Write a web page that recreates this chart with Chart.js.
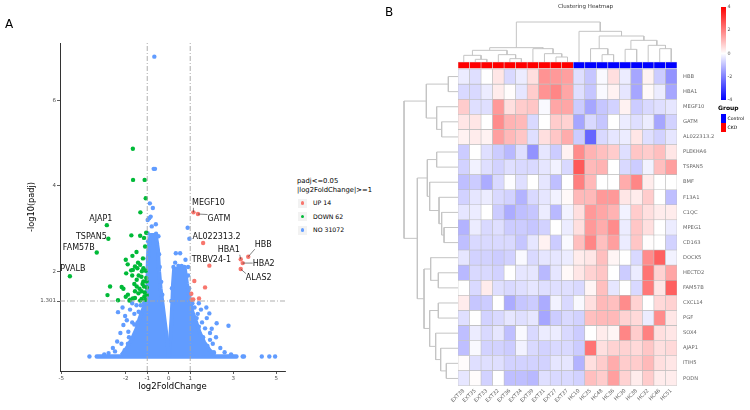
<!DOCTYPE html>
<html>
<head>
<meta charset="utf-8">
<script src="https://cdn.jsdelivr.net/npm/chart.js@4.4.1/dist/chart.umd.min.js"></script>
<style>
  body { margin: 0; background: #fff; width: 750px; height: 410px; position: relative; overflow: hidden; font-family: "DejaVu Sans", sans-serif; }
  canvas, .abs { position: absolute; }
  .abs { white-space: nowrap; }
</style>
</head>
<body>
<canvas id="volcano" width="290" height="400" style="left:0;top:0"></canvas>
<canvas id="rowDendro" width="58" height="317" style="left:400px;top:69px"></canvas>
<canvas id="colDendro" width="219" height="47" style="left:458px;top:15px"></canvas>
<canvas id="heat" width="309" height="355" style="left:428px;top:55px"></canvas>

<div class="abs" style="left:5px;top:17px;font-size:12px;">A</div>
<div class="abs" style="left:385px;top:5px;font-size:12px;">B</div>
<div class="abs" style="left:558px;top:3px;font-size:5.5px;color:#333;">Clustering Heatmap</div>
<div class="abs" style="left:297px;top:177px;font-size:6.8px;line-height:9px;">padj&lt;=0.05<br>|log2FoldChange|&gt;=1</div>
<div id="volcanoLegend"></div>
<div id="heatLegend"></div>

<script>
// ---------- volcano plot data ----------
const xTicks = [-5, -2, -1, 0, 1, 3, 5];
const yTicks = [1.301, 2, 4, 6];
const fcCut = 1;
const padjLine = 1.301;
const upCount = 14, downCount = 62, noCount = 31072;

// UP (red)
const upX = [1.15, 1.36, 1.60, 3.70, 3.35, 3.44, 3.35, 1.89, 1.19, 1.69, 1.05, 1.41, 1.07, 1.14];
const upY = [3.38, 3.34, 2.66, 2.34, 2.28, 2.19, 2.05, 2.13, 1.77, 1.62, 1.47, 1.36, 1.33, 1.34];
const upGene = ["MEGF10", "GATM", "AL022313.2", "HBB", "HBA1", "HBA2", "ALAS2", "TRBV24-1"];

// DOWN (green)
const downX = [-4.60, -3.35, -2.81, -2.88, -1.67, -1.66, -1.12, -1.07, -1.32, -1.74,
  -1.33, -1.15, -1.10, -1.69, -2.00, -1.91, -1.57, -1.67, -1.46, -1.33,
  -1.43, -1.18, -1.07, -1.75, -1.98, -1.27, -1.05, -1.49, -1.18, -2.73,
  -2.19, -2.11, -1.49, -1.36, -1.15, -1.02, -1.57, -1.26, -1.41, -2.85,
  -2.36, -1.80, -1.67, -1.57, -1.26, -1.13, -1.02, -1.83, -1.33, -1.09,
  -1.03, -1.20, -1.50, -1.05, -1.40, -1.90, -1.60, -1.25, -1.12, -2.00,
  -1.70, -1.22];
const downY = [1.88, 2.44, 2.76, 3.08, 4.87, 4.14, 4.14, 3.71, 3.38, 2.84,
  2.83, 2.78, 2.58, 2.36, 2.27, 2.16, 2.11, 2.03, 2.07, 2.15,
  2.20, 2.07, 2.01, 2.02, 1.95, 1.87, 1.84, 1.80, 1.76, 1.64,
  1.63, 1.59, 1.64, 1.59, 1.64, 1.62, 1.53, 1.53, 1.48, 1.44,
  1.32, 1.33, 1.36, 1.37, 1.35, 1.41, 1.44, 1.31, 1.31, 1.33,
  1.76, 2.30, 2.45, 2.90, 1.90, 1.45, 1.70, 2.00, 1.50, 1.40,
  1.90, 1.70];
const downGene = ["PVALB", "FAM57B", "TSPAN5", "AJAP1"];

// NO (blue) - scattered points outside the dense cloud
const noX = [-0.67, -0.70, -0.64, -0.88, -0.74, -0.91, -0.84, -0.98, -0.79, -0.98, -0.59, -0.48, -0.96, -0.55, -0.45, -0.42, -0.99, -0.97, -0.99, -0.35, -0.30, -0.60,
  0.88, 0.96, 0.33, 0.53, 0.78, 0.73, 0.60, 0.45, 0.22, 0.30, 0.90, 0.95, 0.98, 0.15, 0.12, 0.90,
  -3.69, -2.36, -2.11, -2.03, -1.88, -1.77, -2.25, -2.40, -2.60, -2.50, -2.20, -1.95, -1.80, -1.60, -1.50, -1.70, -1.40, -1.30, -1.15, -1.85, -2.05, -2.80, -3.00, -1.60, -1.30, -2.15, -1.70, -1.45, -1.90,
  1.89, 2.23, 2.78, 1.77, 1.69, 1.92, 1.92, 1.46, 1.55, 1.35, 1.20, 1.10, 1.50, 1.60, 2.05, 2.20, 2.40, 2.10, 1.80, 2.60, 2.90, 1.40, 1.30, 1.00, 2.00, 1.75, 1.40,
  3.44, 3.50, 4.33, 4.68, 4.95];
const noY = [7.03, 4.40, 4.40, 3.59, 3.48, 3.24, 3.28, 3.20, 3.05, 2.89, 2.88, 2.82, 2.70, 2.65, 2.40, 2.10, 2.30, 1.90, 1.50, 1.75, 1.45, 3.10,
  3.02, 2.76, 2.42, 2.42, 2.27, 2.10, 2.12, 2.12, 2.10, 2.20, 1.90, 1.60, 1.45, 1.60, 1.30, 2.10,
  0.00, 1.04, 0.74, 0.95, 0.58, 0.35, 0.55, 0.35, 0.20, 0.12, 0.30, 0.85, 1.10, 1.00, 1.20, 0.80, 1.05, 1.20, 1.25, 0.45, 0.15, 0.08, 0.05, 0.75, 1.00, 1.15, 1.25, 0.80, 0.30,
  1.01, 0.78, 0.72, 0.90, 0.66, 0.55, 0.39, 0.51, 0.80, 1.00, 1.15, 1.25, 1.10, 0.45, 0.30, 0.45, 0.20, 0.10, 0.25, 0.10, 0.05, 0.70, 0.90, 1.28, 0.65, 1.15, 1.25,
  0, 0, 0, 0, 0];

// outline of the dense NO cloud (two lobes) and the padj = 1 row
const cloudLeftX = [-2.2, -1.95, -1.7, -1.5, -1.35, -1.2, -1.05, -1.0, -0.98, -0.95, -0.85, -0.6, -0.5, -0.45, -0.38, -0.28, -0.18, -0.08, -0.02, -0.02];
const cloudLeftY = [0.03, 0.2, 0.42, 0.65, 0.9, 1.1, 1.28, 1.6, 2.1, 2.5, 2.85, 2.85, 2.5, 2.0, 1.6, 1.2, 0.8, 0.4, 0.15, 0.02];
const cloudRightX = [0.02, 0.03, 0.08, 0.13, 0.17, 0.2, 0.25, 0.75, 0.85, 0.97, 1.1, 1.28, 1.45, 1.65, 1.9, 2.15];
const cloudRightY = [0.02, 0.2, 0.5, 0.9, 1.3, 1.7, 2.05, 2.05, 1.7, 1.35, 1.05, 0.8, 0.55, 0.33, 0.15, 0.03];
const zeroRowX = [-3.35, 3.15];
const zeroRowY = [0, 0];

// ---------- heatmap data ----------
const sampleNames = ["EXT38", "EXT35", "EXT33", "EXT32", "EXT36", "EXT34", "EXT39", "EXT31", "EXT27", "EXT37",
  "HC10", "HC35", "HC48", "HC36", "HC30", "HC38", "HC32", "HC46", "HC51"];
const sampleGroups = ["CKD", "CKD", "CKD", "CKD", "CKD", "CKD", "CKD", "CKD", "CKD", "CKD",
  "Control", "Control", "Control", "Control", "Control", "Control", "Control", "Control", "Control"];
const rowGenes = ["HBB", "HBA1", "MEGF10", "GATM", "AL022313.2", "PLEKHA6", "TSPAN5", "BMF", "F13A1", "C1QC",
  "MPEG1", "CD163", "DOCK5", "HECTD2", "FAM57B", "CXCL14", "PGF", "SOX4", "AJAP1", "ITIH5", "PODN"];
const heatValues = [
  [-0.3, -0.5, 0, 0.4, -0.6, -0.3, 0.5, 1.7, 1.6, 1.5, -0.5, -0.9, -0.1, 0.5, -0.3, -1.4, 0.2, -0.8, -1.7],
  [-0.6, -0.6, -0.3, 0.3, 0.05, -0.4, 0.8, 1.7, 1.9, 1.4, -0.5, -0.9, -0.1, 0.2, -0.4, -1.4, 0.1, -0.3, -1.4],
  [0.8, -0.5, -0.5, 1.6, 0.5, 0.8, 0.9, -0.1, 1.4, 1.4, -0.8, -1.4, -0.9, -0.7, 0.2, -0.8, -0.6, -0.5, -0.4],
  [0.4, 0.4, 0, 1.8, 1.2, 1.1, -0.6, 0, 0.8, 0.7, -1.4, -0.6, -0.9, 0, -0.3, -0.5, -0.3, -1.4, -0.7],
  [0.2, 0.3, 0.2, 1.5, 1.1, 0.9, -0.5, 0.5, 0.9, 1.3, -0.8, -2.4, -0.6, -0.4, -0.3, 0.4, -0.5, -0.7, -0.4],
  [-0.8, 0, -0.5, -0.8, -1.1, -0.5, -1.7, -0.4, -0.8, 0.2, 1.8, 1.2, 1.0, 0.8, -0.5, 0.9, 0.8, 1.0, 0.4],
  [-0.7, -0.2, -0.5, -0.7, -0.5, -0.6, -0.6, -0.4, -0.2, -0.6, 2.6, 1.1, 1.2, 0, -0.6, -0.8, -0.2, 1.0, 1.5],
  [-1.0, -0.8, -1.3, -0.6, -0.05, -0.5, 0, -0.4, -1.0, 0, 2.0, 1.1, 0, 0, 1.3, 1.9, 0.3, 0, 0],
  [-0.7, -0.4, -0.3, -0.6, -0.7, -1.2, -0.6, -0.4, -0.2, 0.1, 1.1, 1.1, 1.6, 1.6, 0.4, 0.3, 0.8, 0, -1.0],
  [-0.4, -0.3, 0, -0.8, -1.3, -1.0, -0.9, -0.3, -1.1, -0.2, 0.5, 1.6, 1.4, 1.2, -0.2, 0.8, 0.5, 0.3, 0.3],
  [-1.2, -0.3, -0.6, -0.5, -0.8, -0.8, -0.9, -0.7, 0, -0.3, 0.5, 1.6, 1.3, 1.8, -0.3, 0.9, 0.5, 0, -0.3],
  [-1.0, -0.6, -0.6, -0.6, -0.6, -0.9, -0.4, 0.2, -0.8, -0.1, 1.0, 1.9, 1.0, 1.5, -0.3, 0.9, 0.05, 0, -0.7],
  [-0.4, -0.7, -0.7, -0.8, -0.7, -0.1, -0.6, -0.4, -0.4, -0.3, 0.3, 0.4, 1.0, 0.15, 0, -0.6, 1.8, 2.5, -0.2],
  [-1.1, -0.6, -0.6, -0.7, 0, -0.4, -0.4, -1.1, -0.4, 0.1, 0.4, 0.7, 0.9, 0, -0.8, -0.3, 2.2, 0.7, 1.4],
  [0, -0.6, 0.3, -0.5, -0.6, -0.5, -0.4, -0.5, -0.5, -0.5, -0.6, 0.15, 1.0, -0.4, 0, -0.6, 2.1, 0.4, 2.5],
  [0.3, -0.9, -0.8, 0, -1.3, -0.9, -0.8, -1.3, -0.2, -0.6, -0.1, 0.5, 1.1, 1.0, 1.8, 0.7, 0, 0.6, 0.7],
  [-0.5, 0, -0.7, -0.6, -0.4, -0.5, -0.4, -1.4, -0.8, -0.6, -0.7, 1.0, 1.1, 1.1, 0.7, 0.6, -0.3, 1.8, 0.4],
  [-1.0, -0.3, -0.6, -0.4, -1.0, -0.1, -0.6, -0.3, -0.3, -0.6, -0.8, 0, 0.3, 0.15, 1.9, 0.8, 2.0, 0.5, 0.4],
  [-1.0, -0.1, -0.7, -0.7, -0.8, -0.2, -0.6, -0.7, -0.6, -0.6, -0.8, 2.2, 0.5, 0.7, 0.7, 0.6, 0.9, 0.5, 0.6],
  [0.05, -0.5, -0.5, -0.5, -0.7, -0.7, -0.7, -0.7, -0.4, -0.4, -1.2, 0.5, 0.8, 1.3, 0.8, 0.8, 1.1, 0.5, 0.4],
  [-0.4, 0.05, -0.7, 0, -1.0, -1.0, -1.1, -0.5, -0.6, -0.6, -0.7, 1.0, 0.8, 1.5, 0.7, 0.3, 0.8, 0.3, 0.3]
];
const colorTicks = [4, 2, 0, -2, -4];
const groupNames = ["Control", "CKD"];

// dendrograms: [left, right, height], leaves are indices
const colTree = [
  [[[0, [1, 2, 8], 20], [3, [4, 5, 10], 22], 35], [6, [7, [8, 9, 15], 25], 40], 43],
  [10, [[11, [12, 13, 22], 40], [[14, 15, 38], [16, [17, 18, 40], 50], 65], 78], 92],
  120
];
const rowTree = [
  [[0, 1, 29], [2, [3, 4, 49], 64], 95],
  [
    [[5, 6, 64], [7, [8, [9, [10, 11, 42], 49], 57], 85], 92],
    [[12, [13, 14, 59], 82], [[15, 16, 59], [17, [18, [19, 20, 35], 52], 67], 85], 102],
    122
  ],
  162
];

// ---------- styles ----------
const blue = "#619CFF", green = "#00BA38", red = "#F8766D";
const groupColor = { CKD: "#ff0000", Control: "#0000ff" };
const font = "DejaVu Sans";
const labelOffset = {
  MEGF10: [15, -9], GATM: [21, 5], "AL022313.2": [13.5, -6], HBB: [15, -12], HBA1: [-12, -9],
  HBA2: [21, 0.7], ALAS2: [18, 9], "TRBV24-1": [2, -6],
  PVALB: [3, -7], FAM57B: [-18, -5], TSPAN5: [-17, -2], AJAP1: [-6, -6]
};
const xMin = -5.06, xMax = 5.41, yMin = -0.34, yMax = 7.35;

function pts(xs, ys) {
  return xs.map((x, i) => ({ x: x, y: ys[i] }));
}

function valueColor(v) {
  const t = Math.min(Math.abs(v) / 4, 1);
  const c = Math.round(255 * (1 - t));
  return v >= 0 ? `rgb(255,${c},${c})` : `rgb(${c},${c},255)`;
}

// gene labels with short leader lines
const geneLabels = {
  id: "geneLabels",
  afterDatasetsDraw(chart) {
    const { ctx, scales } = chart;
    ctx.save();
    ctx.font = `8px "${font}"`;
    ctx.textAlign = "center";
    ctx.textBaseline = "middle";
    const draw = (names, xs, ys) => {
      names.forEach((g, i) => {
        const px = scales.x.getPixelForValue(xs[i]);
        const py = scales.y.getPixelForValue(ys[i]);
        const cx = px + labelOffset[g][0];
        const cy = py + labelOffset[g][1];
        const w = ctx.measureText(g).width;
        const h = 9;
        const nx = Math.min(Math.max(px, cx - w / 2), cx + w / 2);
        const ny = Math.min(Math.max(py, cy - h / 2), cy + h / 2);
        if (Math.hypot(nx - px, ny - py) > 3) {
          ctx.strokeStyle = "#333";
          ctx.lineWidth = 0.6;
          ctx.beginPath();
          ctx.moveTo(px, py);
          ctx.lineTo(nx, ny);
          ctx.stroke();
        }
        ctx.fillStyle = "#111";
        ctx.fillText(g, cx, cy);
      });
    };
    draw(upGene, upX, upY);
    draw(downGene, downX, downY);
    ctx.restore();
  }
};

const dashed = { type: "line", borderColor: "#a6a6a6", borderWidth: 0.9, borderDash: [5, 2, 1, 2], pointRadius: 0, order: 0 };

new Chart(document.getElementById("volcano"), {
  type: "scatter",
  data: {
    datasets: [
      { ...dashed, data: [{ x: -fcCut, y: yMin }, { x: -fcCut, y: yMax }] },
      { ...dashed, data: [{ x: fcCut, y: yMin }, { x: fcCut, y: yMax }] },
      { ...dashed, data: [{ x: xMin, y: padjLine }, { x: xMax, y: padjLine }] },
      { data: pts(upX, upY), backgroundColor: red, pointRadius: 2.2, borderWidth: 0, order: 1 },
      { data: pts(downX, downY), backgroundColor: green, pointRadius: 2.2, borderWidth: 0, order: 1 },
      { data: pts(noX, noY), backgroundColor: blue, pointRadius: 2.2, borderWidth: 0, order: 2 },
      { type: "line", data: pts(cloudLeftX, cloudLeftY), fill: "shape", backgroundColor: blue, borderColor: blue, borderWidth: 4, borderJoinStyle: "round", pointRadius: 0, order: 3 },
      { type: "line", data: pts(cloudRightX, cloudRightY), fill: "shape", backgroundColor: blue, borderColor: blue, borderWidth: 4, borderJoinStyle: "round", pointRadius: 0, order: 3 },
      { type: "line", data: pts(zeroRowX, zeroRowY), borderColor: blue, borderWidth: 4.5, borderCapStyle: "round", pointRadius: 0, order: 3 }
    ]
  },
  options: {
    responsive: false,
    animation: false,
    layout: { padding: { left: 0, right: 5, top: 43, bottom: 0 } },
    plugins: { legend: { display: false }, tooltip: { enabled: false } },
    scales: {
      x: {
        type: "linear", min: xMin, max: xMax,
        afterBuildTicks: (s) => { s.ticks = xTicks.map((v) => ({ value: v })); },
        afterFit: (s) => { s.height = 29; s.paddingLeft = 0; s.paddingRight = 0; },
        ticks: { callback: (v) => String(v), font: { size: 5.5, family: font }, color: "#4d4d4d", padding: 1, maxRotation: 0, autoSkip: false },
        grid: { display: true, drawOnChartArea: false, drawTicks: true, tickLength: 3, color: "#333", lineWidth: 0.8 },
        border: { display: true, color: "#333", width: 1 },
        title: { display: true, text: "log2FoldChange", color: "#000", font: { size: 8.5, family: font }, padding: { top: 0, bottom: 8.5 } }
      },
      y: {
        type: "linear", min: yMin, max: yMax,
        afterBuildTicks: (s) => { s.ticks = yTicks.map((v) => ({ value: v })); },
        afterFit: (s) => { s.width = 60; s.paddingTop = 0; s.paddingBottom = 0; },
        ticks: { callback: (v) => String(v), font: { size: 5.5, family: font }, color: "#4d4d4d", padding: 1, autoSkip: false },
        grid: { display: true, drawOnChartArea: false, drawTicks: true, tickLength: 3, color: "#333", lineWidth: 0.8 },
        border: { display: true, color: "#333", width: 1 },
        title: { display: true, text: "-log10(padj)", color: "#000", font: { size: 8.2, family: font }, padding: { top: 26.5, bottom: 0 } }
      }
    }
  },
  plugins: [geneLabels]
});

// volcano legend
const legendItems = [[`UP ${upCount}`, red], [`DOWN ${downCount}`, green], [`NO ${noCount}`, blue]];
document.getElementById("volcanoLegend").innerHTML = legendItems.map((it, i) => {
  const cy = 203 + i * 13.5;
  return `<div class="abs" style="left:298px;top:${cy - 4.5}px;width:9px;height:9px;background:#f2f2f2;"></div>` +
    `<div class="abs" style="left:301px;top:${cy - 1.6}px;width:3.2px;height:3.2px;border-radius:50%;background:${it[1]};"></div>` +
    `<div class="abs" style="left:313px;top:${cy - 4}px;font-size:6.2px;line-height:8px;">${it[0]}</div>`;
}).join("");

// ---------- dendrograms ----------
function dendroSegments(node, out) {
  if (typeof node === "number") return { pos: node, h: 0 };
  const a = dendroSegments(node[0], out);
  const b = dendroSegments(node[1], out);
  const h = node[2];
  out.push({ p: a.pos, h: a.h }, { p: a.pos, h: h }, { p: b.pos, h: h }, { p: b.pos, h: b.h }, null);
  return { pos: (a.pos + b.pos) / 2, h: h };
}

const colSegs = [];
dendroSegments(colTree, colSegs);
const rowSegs = [];
dendroSegments(rowTree, rowSegs);

const dendroOpts = (x, y) => ({
  responsive: false,
  animation: false,
  layout: { padding: 0 },
  plugins: { legend: { display: false }, tooltip: { enabled: false } },
  scales: { x: { type: "linear", display: false, ...x }, y: { type: "linear", display: false, ...y } }
});

new Chart(document.getElementById("colDendro"), {
  type: "line",
  data: {
    datasets: [{
      data: colSegs.map((s) => (s ? { x: s.p, y: s.h } : { x: null, y: null })),
      borderColor: "#c4c4c4", borderWidth: 1, pointRadius: 0, spanGaps: false, clip: false
    }]
  },
  options: dendroOpts({ min: -0.5, max: sampleNames.length - 0.5 }, { min: 0, max: 141 })
});

new Chart(document.getElementById("rowDendro"), {
  type: "line",
  data: {
    datasets: [{
      data: rowSegs.map((s) => (s ? { x: s.h, y: s.p + 0.5 } : { x: null, y: null })),
      borderColor: "#c4c4c4", borderWidth: 1, pointRadius: 0, spanGaps: false, clip: false
    }]
  },
  options: dendroOpts({ min: 0, max: 174, reverse: true }, { min: 0, max: rowGenes.length, reverse: true })
});

// ---------- heatmap ----------
const cellStyle = { grouped: false, barPercentage: 1, categoryPercentage: 1, borderWidth: 0.6, borderColor: "#bdbdbd", borderSkipped: false };
new Chart(document.getElementById("heat"), {
  type: "bar",
  data: {
    labels: sampleNames,
    datasets: [
      { ...cellStyle, borderColor: "#d9d9d9", data: sampleNames.map(() => [-0.47, -0.04]), backgroundColor: sampleGroups.map((g) => groupColor[g]) },
      ...rowGenes.map((g, r) => ({
        ...cellStyle,
        data: heatValues[r].map(() => [r, r + 1]),
        backgroundColor: heatValues[r].map(valueColor)
      }))
    ]
  },
  options: {
    responsive: false,
    animation: false,
    layout: { padding: { left: 30, top: 6.5, right: 0, bottom: 0 } },
    plugins: { legend: { display: false }, tooltip: { enabled: false } },
    scales: {
      x: {
        type: "category",
        grid: { display: false, drawTicks: false },
        border: { display: false },
        ticks: { font: { size: 5.2, family: font }, color: "#666", minRotation: 45, maxRotation: 45, padding: 2, autoSkip: false },
        afterFit: (s) => { s.height = 24.3; s.paddingLeft = 0; s.paddingRight = 0; }
      },
      y: {
        type: "linear", position: "right", min: -0.5, max: rowGenes.length, reverse: true,
        grid: { display: false, drawTicks: false },
        border: { display: false },
        afterBuildTicks: (s) => { s.ticks = rowGenes.map((g, i) => ({ value: i + 0.5 })); },
        ticks: { autoSkip: false, callback: (v, i) => rowGenes[i], font: { size: 5.2, family: font }, color: "#666", padding: 6 },
        afterFit: (s) => { s.width = 60; s.paddingTop = 0; s.paddingBottom = 0; }
      }
    }
  }
});

// colour key and group legend
const barTop = 7.3, barH = 92.7;
let html = `<div class="abs" style="left:721.3px;top:${barTop}px;width:4.5px;height:${barH}px;background:linear-gradient(to bottom,#ff0000,#ffffff,#0000ff);"></div>`;
colorTicks.forEach((v) => {
  const y = barTop + (4 - v) / 8 * barH;
  html += `<div class="abs" style="left:727.5px;top:${y - 3}px;font-size:4.8px;line-height:6px;color:#555;">${v}</div>`;
});
html += `<div class="abs" style="left:718px;top:104px;font-size:6px;font-weight:bold;">Group</div>`;
groupNames.forEach((g, i) => {
  const top = 114 + i * 9;
  html += `<div class="abs" style="left:721.3px;top:${top}px;width:4.5px;height:9px;background:${groupColor[g]};"></div>`;
  html += `<div class="abs" style="left:727.5px;top:${top + 1.5}px;font-size:4.6px;line-height:6px;">${g}</div>`;
});
document.getElementById("heatLegend").innerHTML = html;
</script>
</body>
</html>
